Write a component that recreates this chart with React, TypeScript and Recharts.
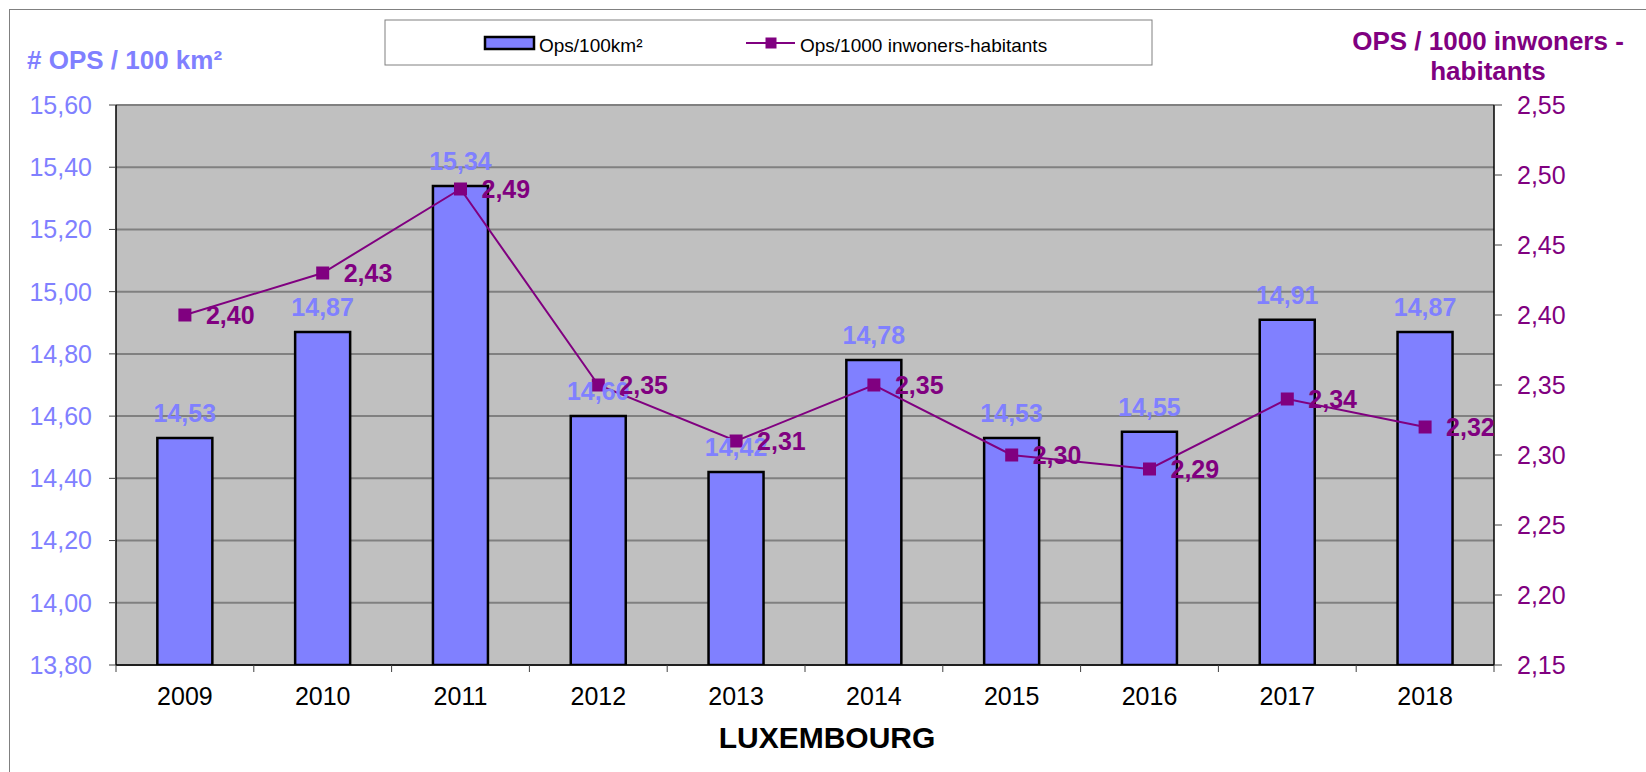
import { ComposedChart, Bar, Line, XAxis, YAxis, CartesianGrid, LabelList } from 'recharts'

// Luxembourg – OPS density
const years = ['2009', '2010', '2011', '2012', '2013', '2014', '2015', '2016', '2017', '2018']
const opsPer100km2 = [14.53, 14.87, 15.34, 14.6, 14.42, 14.78, 14.53, 14.55, 14.91, 14.87]
const opsPer1000 = [2.4, 2.43, 2.49, 2.35, 2.31, 2.35, 2.3, 2.29, 2.34, 2.32]
const leftTicks = [13.8, 14.0, 14.2, 14.4, 14.6, 14.8, 15.0, 15.2, 15.4, 15.6]
const rightTicks = [2.15, 2.2, 2.25, 2.3, 2.35, 2.4, 2.45, 2.5, 2.55]

const data = years.map((year, i) => ({
  year,
  ops100: opsPer100km2[i],
  ops1000: opsPer1000[i]
}))

const W = 1646
const H = 772
const PLOT_LEFT = 116
const PLOT_RIGHT = 1494
const STEP = (PLOT_RIGHT - PLOT_LEFT) / years.length

const BLUE = '#8080FF'
const PURPLE = '#800080'
const FONT = '"Liberation Sans", Arial, sans-serif'

const fmt = (v: any) => Number(v).toFixed(2).replace('.', ',')

const YearTick = ({ x, y, payload, index }: any) => (
  <g>
    <line x1={x - STEP / 2} x2={x - STEP / 2} y1={y} y2={y + 7} stroke="#404040" />
    {index === years.length - 1 && (
      <line x1={x + STEP / 2} x2={x + STEP / 2} y1={y} y2={y + 7} stroke="#404040" />
    )}
    <text x={x} y={y + 40} textAnchor="middle" fill="#000" fontSize={25}>
      {payload.value}
    </text>
  </g>
)

const SquareDot = ({ cx, cy, index }: any) => (
  <rect key={`dot-${index}`} x={cx - 6.5} y={cy - 6.5} width={13} height={13} fill={PURPLE} />
)

export default function App() {
  return (
    <div
      style={{
        position: 'absolute',
        left: 0,
        top: 0,
        width: W,
        height: H,
        overflow: 'hidden',
        background: '#fff',
        fontFamily: FONT
      }}
    >
      <div
        style={{
          position: 'absolute',
          left: 9,
          top: 9,
          width: W,
          height: H,
          borderLeft: '1px solid #808080',
          borderTop: '1px solid #808080'
        }}
      />

      <div style={{ position: 'absolute', left: 0, top: 0 }}>
        <ComposedChart
          width={W}
          height={H}
          data={data}
          margin={{ top: 105, right: 0, bottom: 0, left: 0 }}
          barCategoryGap="30%"
        >
          <CartesianGrid
            yAxisId="left"
            vertical={false}
            fill="#C0C0C0"
            fillOpacity={1}
            stroke="#808080"
            strokeWidth={2}
          />

          <XAxis
            dataKey="year"
            height={107}
            axisLine={{ stroke: '#000', strokeWidth: 1.5 }}
            tickLine={false}
            tickSize={0}
            tickMargin={0}
            interval={0}
            tick={<YearTick />}
          />

          <YAxis
            yAxisId="left"
            width={116}
            domain={[13.8, 15.6]}
            ticks={leftTicks}
            interval={0}
            tickFormatter={fmt}
            axisLine={{ stroke: '#000', strokeWidth: 1.5 }}
            tickLine={{ stroke: '#404040' }}
            tickSize={7}
            tickMargin={17}
            tick={{ fill: BLUE, fontSize: 25 }}
            allowDataOverflow
          />

          <YAxis
            yAxisId="right"
            orientation="right"
            width={152}
            domain={[2.15, 2.55]}
            ticks={rightTicks}
            interval={0}
            tickFormatter={fmt}
            axisLine={{ stroke: '#000', strokeWidth: 1.5 }}
            tickLine={{ stroke: '#404040' }}
            tickSize={8}
            tickMargin={15}
            tick={{ fill: PURPLE, fontSize: 25 }}
            allowDataOverflow
          />

          <Bar
            yAxisId="left"
            dataKey="ops100"
            fill={BLUE}
            stroke="#000"
            strokeWidth={2.5}
            isAnimationActive={false}
          >
            <LabelList
              dataKey="ops100"
              position="top"
              offset={16}
              formatter={fmt}
              fill={BLUE}
              fontSize={25}
              fontWeight="bold"
            />
          </Bar>

          <Line
            yAxisId="right"
            dataKey="ops1000"
            stroke={PURPLE}
            strokeWidth={2}
            dot={<SquareDot />}
            activeDot={false}
            isAnimationActive={false}
          >
            <LabelList
              dataKey="ops1000"
              position="right"
              offset={21}
              formatter={fmt}
              fill={PURPLE}
              fontSize={25}
              fontWeight="bold"
            />
          </Line>
        </ComposedChart>
      </div>

      <svg
        width={W}
        height={H}
        style={{ position: 'absolute', left: 0, top: 0, pointerEvents: 'none' }}
      >
        <text x={27} y={69} fontSize={26} fontWeight="bold" fill={BLUE}>
          # OPS / 100 km²
        </text>
        <text x={1488} y={50} fontSize={26} fontWeight="bold" fill={PURPLE} textAnchor="middle">
          OPS / 1000 inwoners -
        </text>
        <text x={1488} y={80} fontSize={26} fontWeight="bold" fill={PURPLE} textAnchor="middle">
          habitants
        </text>

        <rect x={385} y={20} width={767} height={45} fill="#fff" stroke="#808080" />
        <rect x={485} y={37} width={49} height={12} fill={BLUE} stroke="#000" strokeWidth={2.5} />
        <text x={539} y={52} fontSize={19} fill="#000">
          Ops/100km²
        </text>
        <line x1={746} x2={795} y1={43} y2={43} stroke={PURPLE} strokeWidth={2} />
        <rect x={765.5} y={37.5} width={11} height={11} fill={PURPLE} />
        <text x={800} y={52} fontSize={19} fill="#000">
          Ops/1000 inwoners-habitants
        </text>

        <text x={827} y={748} fontSize={30} fontWeight="bold" fill="#000" textAnchor="middle">
          LUXEMBOURG
        </text>
      </svg>
    </div>
  )
}
